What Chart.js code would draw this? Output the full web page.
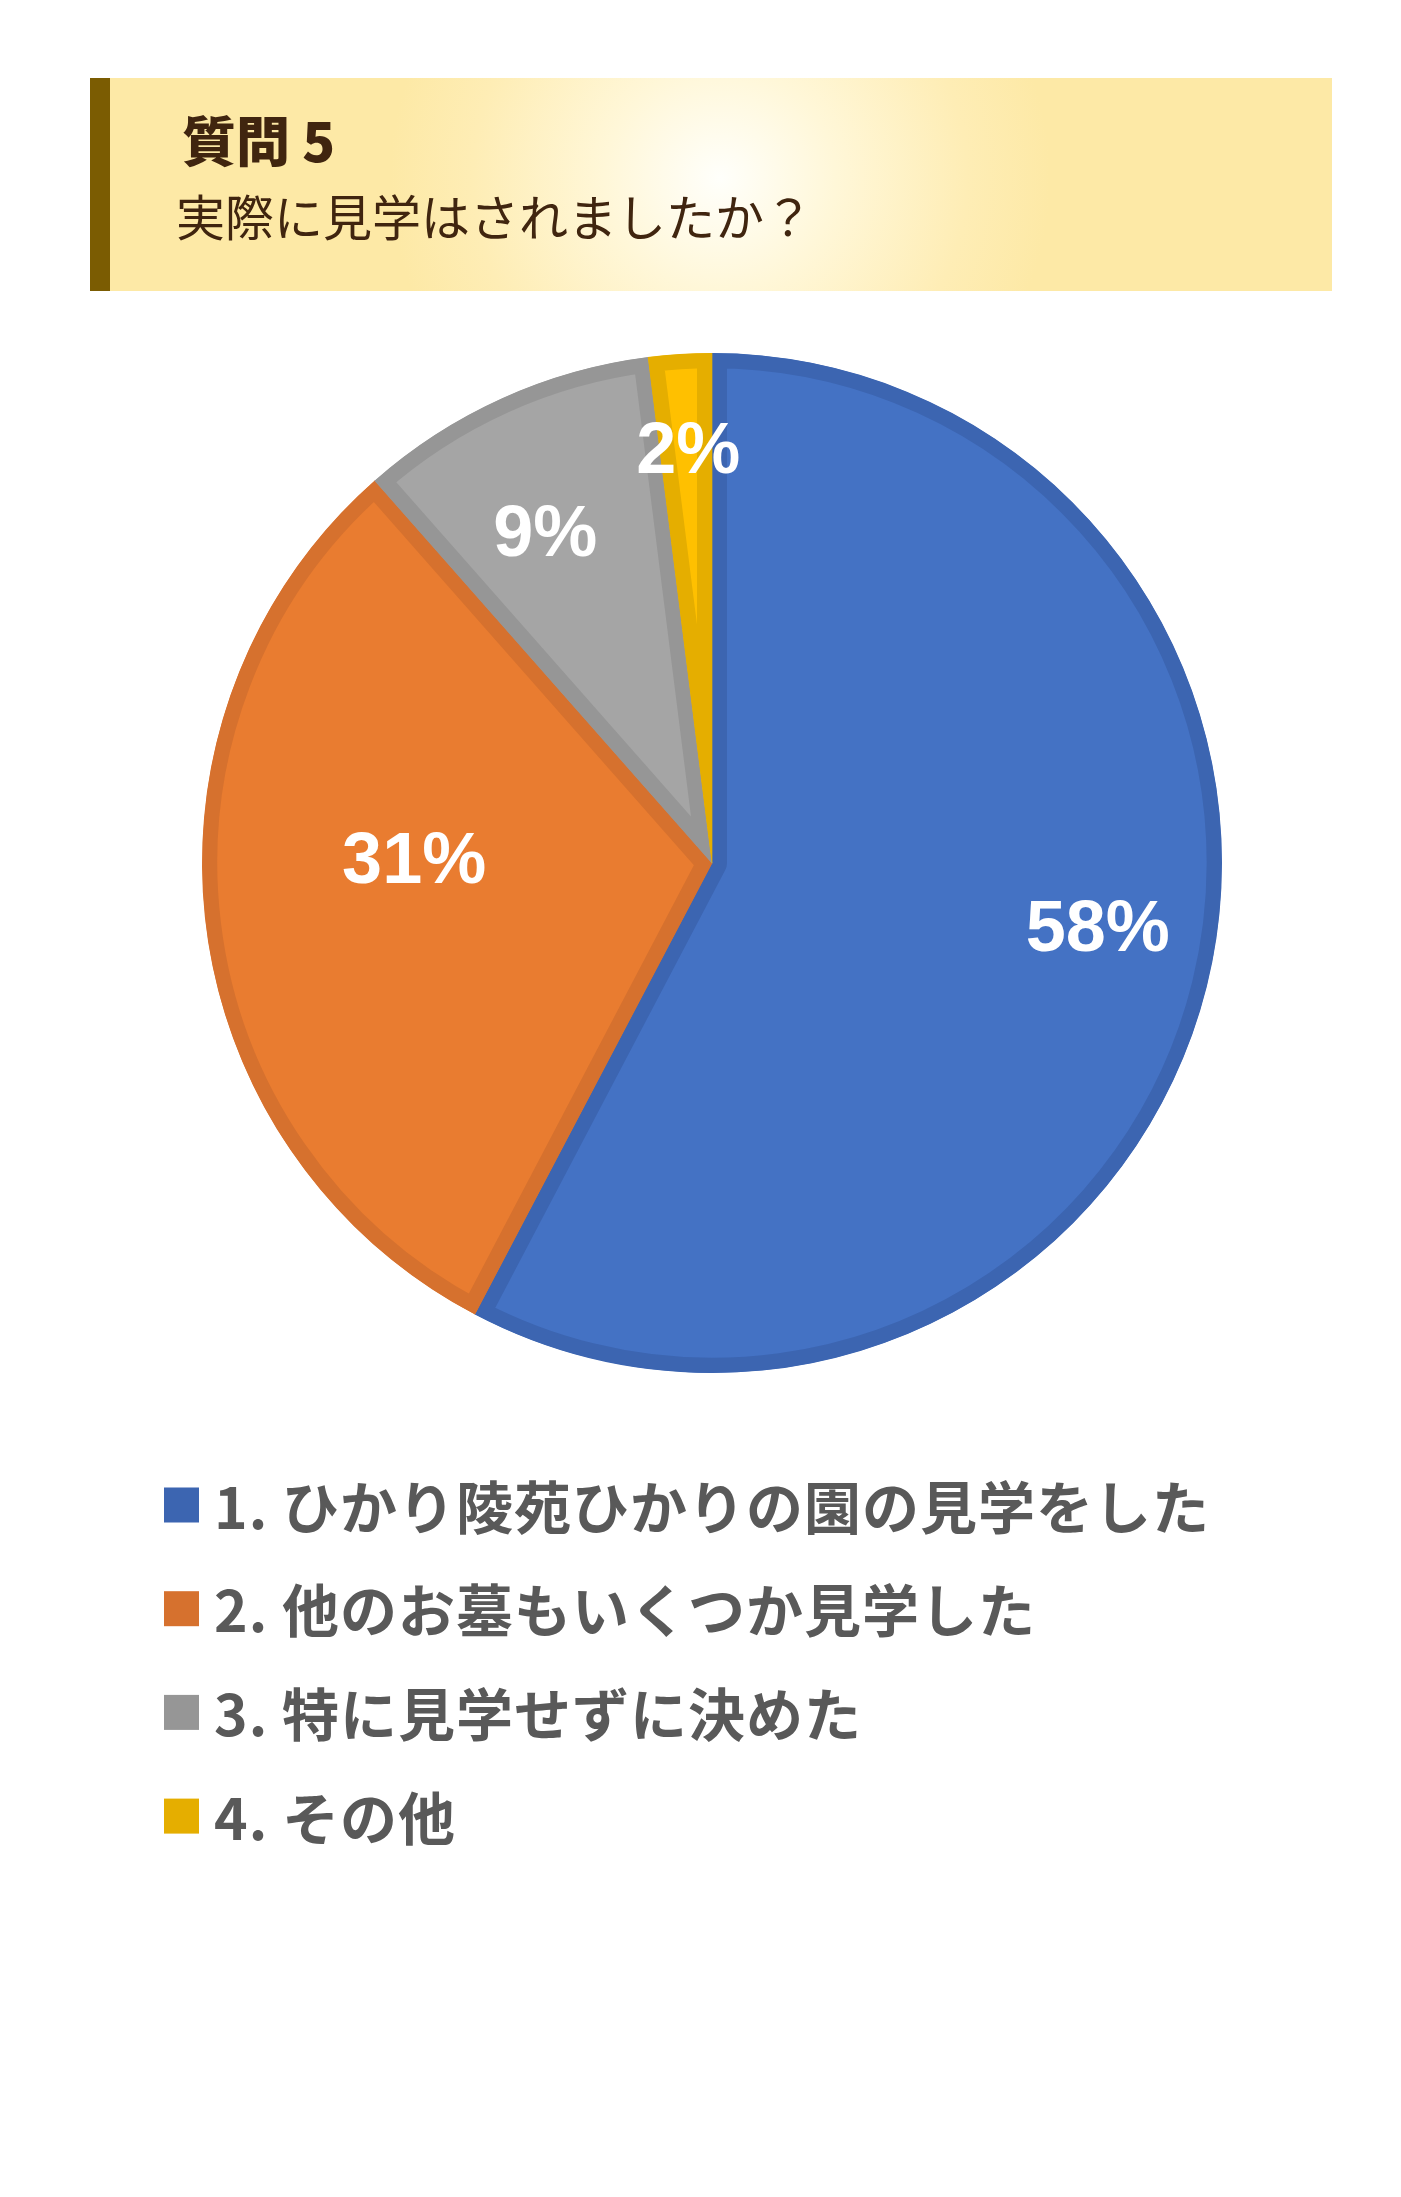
<!DOCTYPE html>
<html lang="ja">
<head>
<meta charset="utf-8">
<script src="https://cdn.jsdelivr.net/npm/chart.js@4.4.1/dist/chart.umd.min.js"></script>
<style>
  html, body { margin: 0; padding: 0; background: #ffffff; }
  #page { position: relative; width: 1401px; height: 2197px; overflow: hidden; }
  #header {
    position: absolute; left: 90px; top: 78px; width: 1242px; height: 213px;
    box-sizing: border-box; border-left: 20px solid #7b5c02;
    background: radial-gradient(ellipse 330px 320px at 610px 100px, #fffffb 0%, #fff7d8 35%, #feedb5 75%, #fde9a6 100%);
  }
  #q { position: absolute; left: 72px; top: 34px; font-family: "Noto Sans CJK JP", sans-serif; font-weight: 900; font-size: 54px; line-height: 54px; color: #40250f; white-space: nowrap; }
  #sub { position: absolute; left: 66px; top: 112px; font-family: "Noto Sans CJK JP", sans-serif; font-weight: 400; font-size: 49px; line-height: 49px; color: #40250f; white-space: nowrap; }
  #wrap { position: absolute; left: 0; top: 0; width: 1401px; height: 2197px; }
</style>
</head>
<body>
<div id="page">
  <div id="wrap"><canvas id="c"></canvas></div>
  <div id="header">
    <div id="q">質問 5</div>
    <div id="sub">実際に見学はされましたか？</div>
  </div>
</div>
<script>
const categories = [
  "1. ひかり陵苑ひかりの園の見学をした",
  "2. 他のお墓もいくつか見学した",
  "3. 特に見学せずに決めた",
  "4. その他"
];
const shareValues = [57.7, 30.8, 9.5, 2.0];
const sliceLabels = ["58%", "31%", "9%", "2%"];
const fillColors = ["#4472c4", "#e97c30", "#a5a5a5", "#ffc000"];
const edgeColors = ["#3c65b1", "#d6712e", "#969696", "#e5ae00"];

const labelPlacement = [
  { r: 0.767, da: -4.3 },
  { r: 0.584, da: 7.3 },
  { r: 0.725, da: -2.5 },
  { r: 0.81, da: 0.3 }
];

const sliceLabelPlugin = {
  id: 'sliceLabels',
  afterDatasetsDraw(chart) {
    const ctx = chart.ctx;
    const meta = chart.getDatasetMeta(0);
    ctx.save();
    ctx.font = 'bold 72px "Liberation Sans", Arial, sans-serif';
    ctx.fillStyle = '#ffffff';
    ctx.textAlign = 'center';
    ctx.textBaseline = 'middle';
    meta.data.forEach((arc, i) => {
      const p = arc.getProps(['x', 'y', 'startAngle', 'endAngle', 'outerRadius']);
      const mid = (p.startAngle + p.endAngle) / 2 + labelPlacement[i].da * Math.PI / 180;
      const rr = p.outerRadius * labelPlacement[i].r;
      ctx.fillText(sliceLabels[i], p.x + Math.cos(mid) * rr, p.y + Math.sin(mid) * rr + 3);
    });
    ctx.restore();
  }
};

const listLegendPlugin = {
  id: 'listLegend',
  afterDraw(chart) {
    const ctx = chart.ctx;
    const area = chart.chartArea;
    const ds = chart.data.datasets[0];
    const firstRow = area.bottom + 132;
    const rowStep = 103.7;
    const boxX = 164, box = 35, textX = 214;
    ctx.save();
    ctx.font = 'bold 57px "Noto Sans CJK JP", sans-serif';
    if ('letterSpacing' in ctx) ctx.letterSpacing = '1px';
    ctx.textBaseline = 'middle';
    ctx.textAlign = 'left';
    chart.data.labels.forEach((lab, i) => {
      const cy = firstRow + i * rowStep;
      ctx.fillStyle = ds.borderColor[i];
      ctx.fillRect(boxX, cy - box / 2, box, box);
      ctx.fillStyle = '#595959';
      ctx.fillText(lab, textX, cy + 2);
    });
    ctx.restore();
  }
};

new Chart(document.getElementById('c'), {
  type: 'pie',
  data: {
    labels: categories,
    datasets: [{
      data: shareValues,
      backgroundColor: fillColors,
      borderColor: edgeColors,
      borderWidth: 15,
      borderAlign: 'inner',
      hoverOffset: 0,
      offset: 0
    }]
  },
  options: {
    responsive: true,
    maintainAspectRatio: false,
    animation: false,
    radius: 510,
    layout: { padding: { left: 23, right: 0, top: 353, bottom: 824 } },
    plugins: {
      legend: { display: false },
      tooltip: { enabled: false },
      title: { display: false }
    },
    events: []
  },
  plugins: [sliceLabelPlugin, listLegendPlugin]
});
</script>
</body>
</html>
